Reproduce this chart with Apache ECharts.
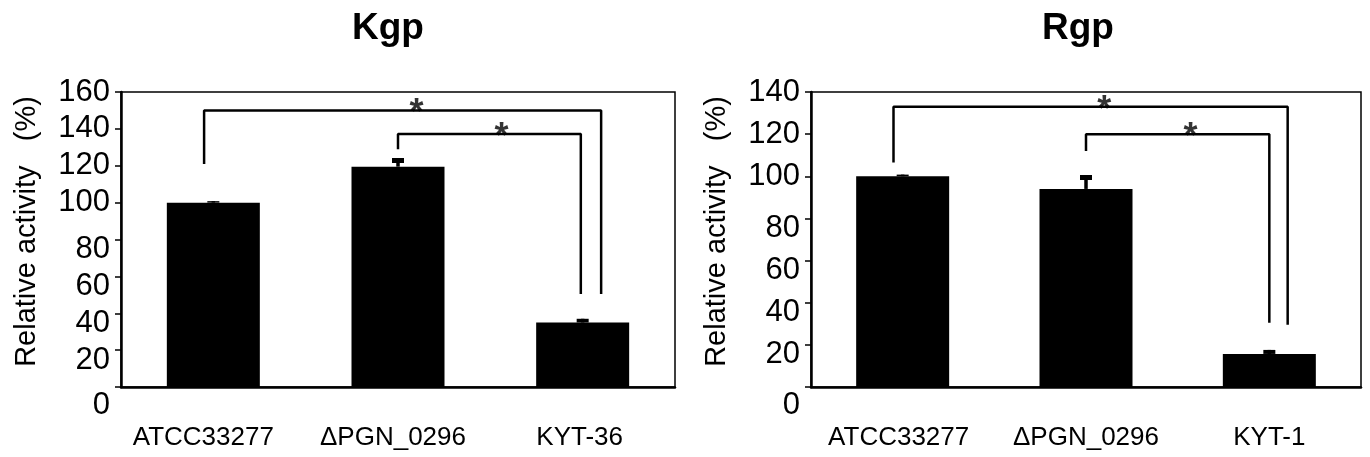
<!DOCTYPE html>
<html>
<head>
<meta charset="utf-8">
<script src="https://cdn.jsdelivr.net/npm/echarts@6/dist/echarts.min.js"></script>
<style>
html,body{margin:0;padding:0;background:#fff;}
#chart{width:1370px;height:457px;}
</style>
</head>
<body>
<div id="chart"></div>
<script>
// ---- data ----
const kgpCategories = ['ATCC33277', 'ΔPGN_0296', 'KYT-36'];
const rgpCategories = ['ATCC33277', 'ΔPGN_0296', 'KYT-1'];
const kgpValues = [100, 119.5, 35];
const kgpErrors = [0.8, 4.7, 2];
const rgpValues = [100, 94, 15.7];
const rgpErrors = [0.8, 6.6, 1.9];
const kgpMax = 160;
const rgpMax = 140;
const tickStep = 20;
// significance brackets (x in category units 0..3, y in %)
const kgpBracketOuter = [[0.45, 121], [0.45, 150], [2.6, 150], [2.6, 50.5]];
const kgpBracketInner = [[1.5, 129], [1.5, 137.2], [2.49, 137.2], [2.49, 50.5]];
const kgpStars = [[1.6, 150], [2.06, 137.2]];
const rgpBracketOuter = [[0.45, 106.5], [0.45, 133], [2.6, 133], [2.6, 29.5]];
const rgpBracketInner = [[1.5, 112], [1.5, 120], [2.5, 120], [2.5, 30.5]];
const rgpStars = [[1.6, 133], [2.07, 120]];
const titles = ['Kgp', 'Rgp'];
const yAxisTitle = 'Relative activity   (%)';

// ---- build ----
const FONT = 'Liberation Sans, Arial, sans-serif';
const chart = echarts.init(document.getElementById('chart'));

const grids = [
  {left: 121, top: 92, width: 554, height: 295},
  {left: 811, top: 92, width: 550, height: 295}
];
const labelShift = [[10, 5, 3], [4, 0, 0]];
const TICK_FS = 31;
const CAT_FS = 26;

function yAxisOpt(gi, max) {
  return {
    type: 'value', gridIndex: gi, min: 0, max: max, interval: tickStep,
    name: yAxisTitle, nameLocation: 'middle', nameGap: 80, nameRotate: 90,
    nameTextStyle: {fontFamily: FONT, fontSize: 29, color: '#000', padding: [0, 0, 0, 16]},
    axisLine: {show: true, lineStyle: {color: '#000', width: 2.5}},
    axisTick: {show: true, inside: false, length: 6, lineStyle: {color: '#000', width: 1.5}},
    splitLine: {show: false},
    axisLabel: {
      margin: 11, color: '#000', fontFamily: FONT, fontSize: TICK_FS,
      formatter: function (v) {
        if (v === 0) return '{z|0}';
        if (v < 100) return '{s|' + v + '}';
        return '{n|' + v + '}';
      },
      rich: {
        z: {fontFamily: FONT, fontSize: TICK_FS, color: '#000', padding: [36, 0, 0, 0]},
        s: {fontFamily: FONT, fontSize: TICK_FS, color: '#000', padding: [20, 0, 0, 0]},
        n: {fontFamily: FONT, fontSize: TICK_FS, color: '#000'}
      }
    }
  };
}
function xCatOpt(gi, cats) {
  const shifts = labelShift[gi];
  return {
    type: 'category', gridIndex: gi, data: cats,
    axisLine: {show: true, lineStyle: {color: '#000', width: 2.5}},
    axisTick: {show: false},
    axisLabel: {
      margin: 38, color: '#000', fontFamily: FONT, fontSize: CAT_FS, interval: 0,
      formatter: function (v, i) { return '{p' + shifts[i] + '|' + v + '}'; },
      rich: {
        p0: {fontFamily: FONT, fontSize: CAT_FS, color: '#000'},
        p3: {fontFamily: FONT, fontSize: CAT_FS, color: '#000', padding: [0, 6, 0, 0]},
        p4: {fontFamily: FONT, fontSize: CAT_FS, color: '#000', padding: [0, 8, 0, 0]},
        p5: {fontFamily: FONT, fontSize: CAT_FS, color: '#000', padding: [0, 10, 0, 0]},
        p10: {fontFamily: FONT, fontSize: CAT_FS, color: '#000', padding: [0, 20, 0, 0]}
      }
    }
  };
}
function xValOpt(gi) {
  return {type: 'value', gridIndex: gi, min: 0, max: 3, show: false};
}
function errorData(vals, errs) {
  return vals.map(function (v, i) { return [i, v, errs[i]]; });
}
function errorSeries(xi, yi, vals, errs) {
  return {
    type: 'custom', xAxisIndex: xi, yAxisIndex: yi, z: 5,
    data: errorData(vals, errs),
    renderItem: function (params, api) {
      const idx = api.value(0), v = api.value(1), e = api.value(2);
      const base = api.coord([idx, v]);
      const top = api.coord([idx, v + e]);
      const h = base[1] - top[1];
      const capH = Math.min(5, h);
      return {type: 'group', children: [
        {type: 'rect', shape: {x: base[0] - 1.75, y: top[1], width: 3.5, height: h}, style: {fill: '#000'}},
        {type: 'rect', shape: {x: top[0] - 6, y: top[1], width: 12, height: capH}, style: {fill: '#000'}}
      ]};
    }
  };
}
function bracketSeries(xi, yi, pts) {
  return {
    type: 'line', xAxisIndex: xi, yAxisIndex: yi, data: pts, symbol: 'none', z: 6,
    lineStyle: {color: '#000', width: 2.5}, silent: true
  };
}
function starSeries(xi, yi, pts) {
  return {
    type: 'scatter', xAxisIndex: xi, yAxisIndex: yi, data: pts, symbolSize: 0.1, z: 7,
    itemStyle: {color: 'rgba(0,0,0,0)'},
    label: {show: true, position: 'inside', formatter: '*', fontFamily: FONT, fontSize: 36, fontWeight: 'bold', color: '#000', offset: [0, 4]}
  };
}

const option = {
  animation: false,
  backgroundColor: '#fff',
  grid: grids.map(function (g) { return Object.assign({show: true, borderColor: '#000', borderWidth: 1.5, backgroundColor: 'transparent'}, g); }),
  xAxis: [xCatOpt(0, kgpCategories), xValOpt(0), xCatOpt(1, rgpCategories), xValOpt(1)],
  yAxis: [yAxisOpt(0, kgpMax), yAxisOpt(1, rgpMax)],
  graphic: [
    {type: 'text', x: 388, y: 29, style: {text: titles[0], fontFamily: FONT, fontSize: 37, fontWeight: 'bold', fill: '#000', align: 'center', verticalAlign: 'middle'}},
    {type: 'text', x: 1078, y: 29, style: {text: titles[1], fontFamily: FONT, fontSize: 37, fontWeight: 'bold', fill: '#000', align: 'center', verticalAlign: 'middle'}}
  ],
  series: [
    {type: 'bar', xAxisIndex: 0, yAxisIndex: 0, data: kgpValues, barWidth: 93, itemStyle: {color: '#000'}},
    errorSeries(0, 0, kgpValues, kgpErrors),
    bracketSeries(1, 0, kgpBracketOuter),
    bracketSeries(1, 0, kgpBracketInner),
    starSeries(1, 0, kgpStars),
    {type: 'bar', xAxisIndex: 2, yAxisIndex: 1, data: rgpValues, barWidth: 93, itemStyle: {color: '#000'}},
    errorSeries(2, 1, rgpValues, rgpErrors),
    bracketSeries(3, 1, rgpBracketOuter),
    bracketSeries(3, 1, rgpBracketInner),
    starSeries(3, 1, rgpStars)
  ]
};
chart.setOption(option);
</script>
</body>
</html>
